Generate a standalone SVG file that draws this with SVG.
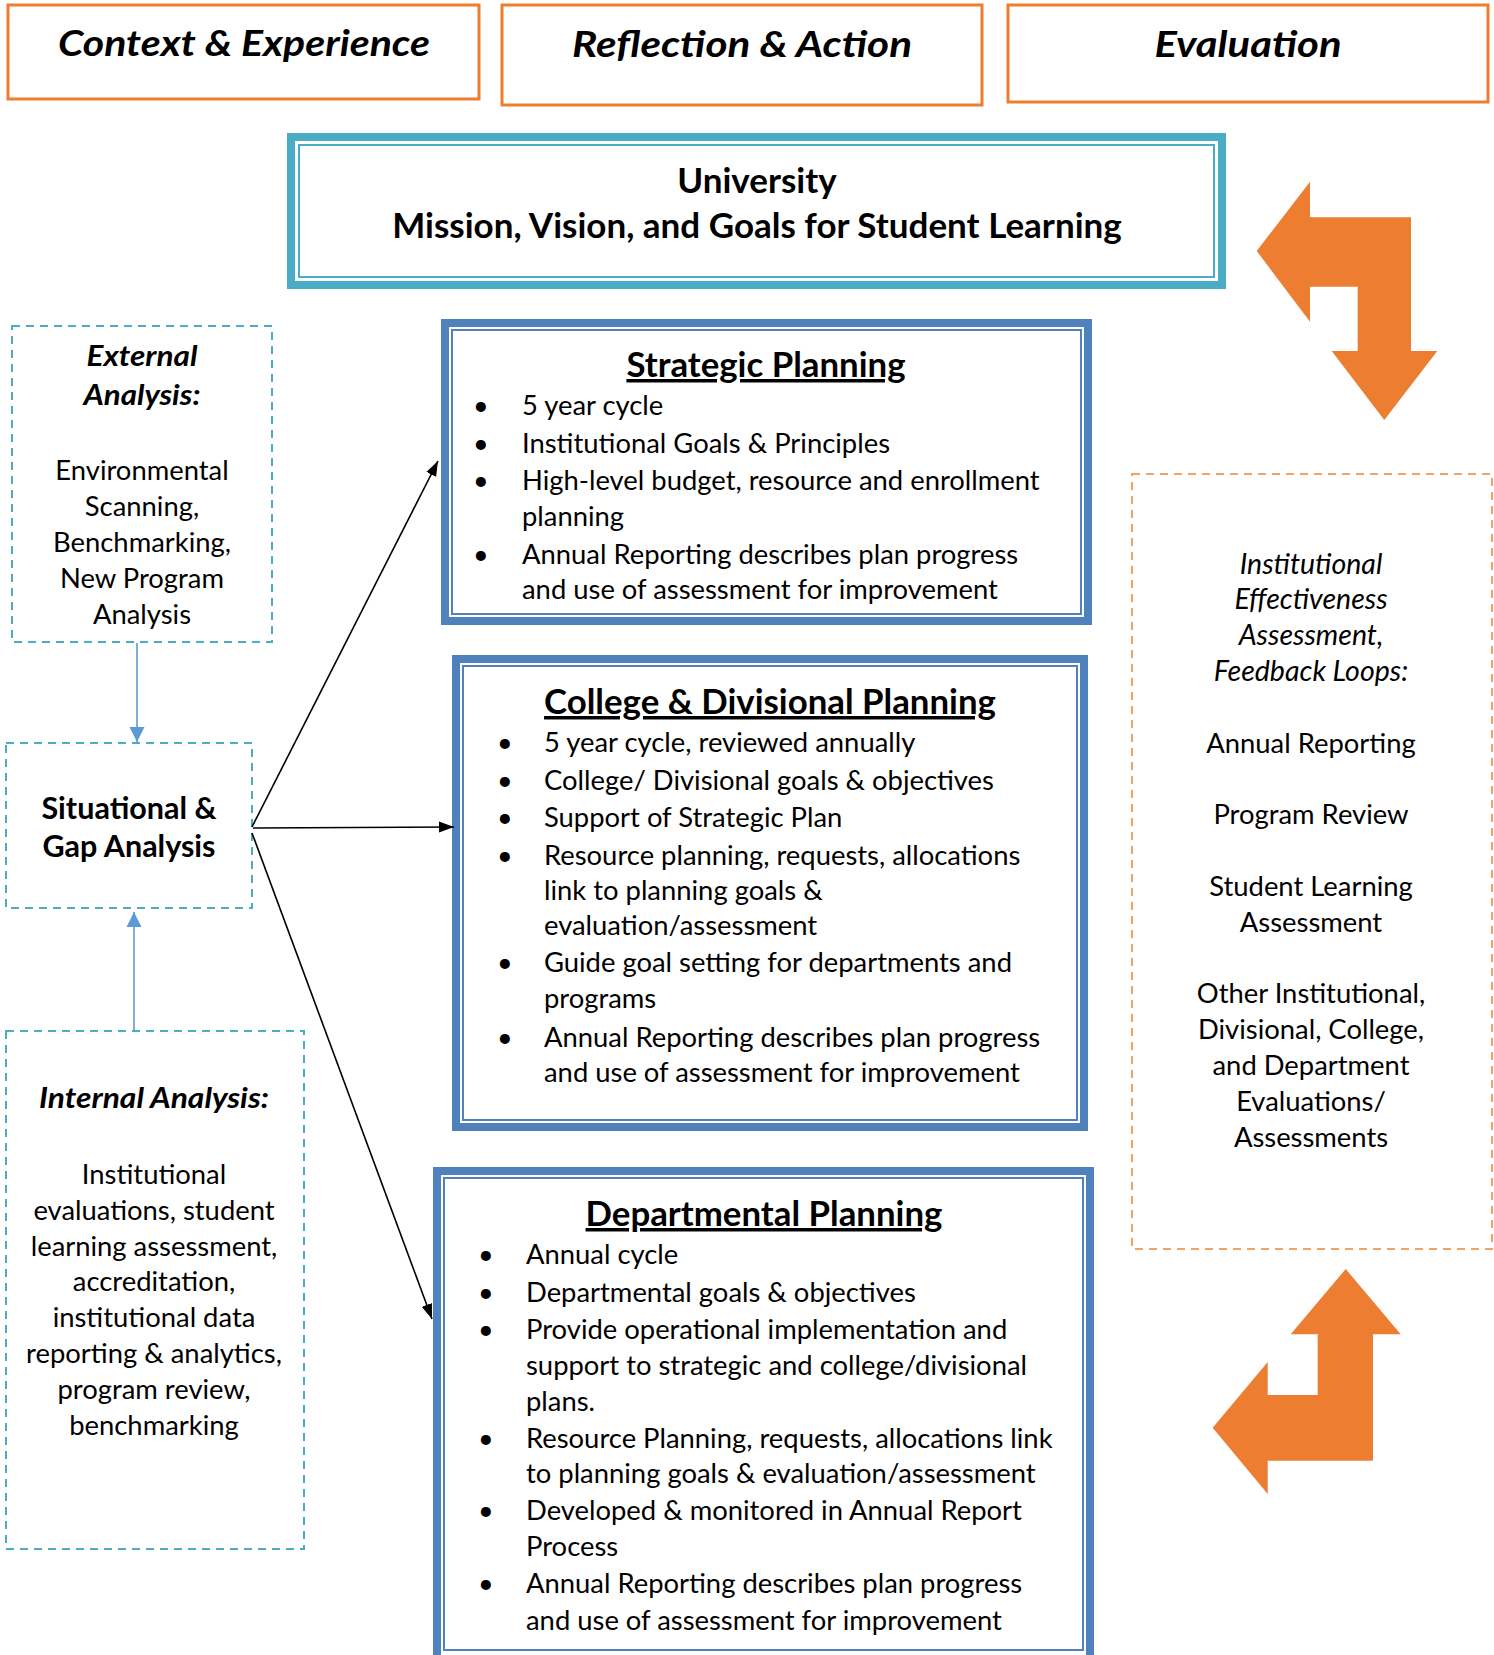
<svg xmlns="http://www.w3.org/2000/svg" width="1494" height="1655" viewBox="0 0 1494 1655">
  <style>
    text { font-family: Lato, "Open Sans", "Liberation Sans", sans-serif; fill: #000; }
    .hdr { font-size: 37px; font-weight: 700; font-style: italic; text-anchor: middle; }
    .hbox { fill: #fff; stroke: #ED7D31; stroke-width: 3; }
    .uni { font-size: 35px; font-weight: 700; text-anchor: middle; }
    .band-teal { fill: none; stroke: #4BACC6; stroke-width: 8; }
    .thin-teal { fill: none; stroke: #4BACC6; stroke-width: 2; }
    .band-blue { fill: none; stroke: #4F81BD; stroke-width: 8; }
    .thin-blue { fill: none; stroke: #4F81BD; stroke-width: 2; }
    .title { font-size: 34.8px; font-weight: 700; text-anchor: middle; text-decoration: underline; }
    .body { font-size: 27.4px; }
    .bul { font-size: 27px; }
    .ctr { font-size: 27.4px; text-anchor: middle; }
    .ctr-bi { font-size: 29px; font-weight: 700; font-style: italic; text-anchor: middle; }
    .ctr-b { font-size: 30.5px; font-weight: 700; text-anchor: middle; }
    .ctr-i { font-size: 28.5px; font-style: italic; text-anchor: middle; }
    .dash-teal { fill: #fff; stroke: #4BACC6; stroke-width: 2; stroke-dasharray: 8 6; }
    .dash-orange { fill: #fff; stroke: #F4A262; stroke-width: 2; stroke-dasharray: 8 6; }
    .conn { stroke: #000; stroke-width: 1.6; fill: none; }
    .conn-blue { stroke: #5B9BD5; stroke-width: 1.6; fill: none; }
    .big-arrow { fill: #ED7D31; }
  </style>
  <defs>
    <marker id="arrow-black" markerUnits="userSpaceOnUse" markerWidth="16" markerHeight="14" refX="15" refY="7" orient="auto">
      <path d="M0,1.5 L15,7 L0,12.5 Z" fill="#000"/>
    </marker>
    <marker id="arrow-blue" markerUnits="userSpaceOnUse" markerWidth="16" markerHeight="16" refX="15" refY="8" orient="auto">
      <path d="M0,0.5 L15,8 L0,15.5 Z" fill="#5B9BD5"/>
    </marker>
  </defs>

  <rect width="1494" height="1655" fill="#fff"/>

  <!-- column headers -->
  <g id="hdr-context">
    <rect class="hbox" x="8" y="5" width="471" height="94"/>
    <text class="hdr" x="244" y="56" textLength="372" lengthAdjust="spacingAndGlyphs">Context &amp; Experience</text>
  </g>
  <g id="hdr-reflection">
    <rect class="hbox" x="502" y="5" width="480" height="100"/>
    <text class="hdr" x="742" y="57" textLength="340" lengthAdjust="spacingAndGlyphs">Reflection &amp; Action</text>
  </g>
  <g id="hdr-evaluation">
    <rect class="hbox" x="1008" y="5" width="480" height="97"/>
    <text class="hdr" x="1248" y="57" textLength="187" lengthAdjust="spacingAndGlyphs">Evaluation</text>
  </g>

  <!-- university mission -->
  <g id="university">
    <rect x="287" y="133" width="939" height="156" fill="#fff"/>
    <rect class="band-teal" x="291" y="137" width="931" height="148"/>
    <rect class="thin-teal" x="299" y="145" width="915" height="132"/>
    <text class="uni" x="757" y="193">University</text>
    <text class="uni" x="757" y="238">Mission, Vision, and Goals for Student Learning</text>
  </g>

  <!-- evaluation feedback arrows -->
  <g id="arrow-top">
    <polygon class="big-arrow" points="1256.7,251 1310,181.7 1310,217.3 1411,217.3 1411,351 1437.3,351 1384.3,420 1331.7,351 1357.7,351 1357.7,286.7 1310,286.7 1310,321.7"/>
  </g>
  <g id="arrow-bottom">
    <polygon class="big-arrow" points="1345.7,1269 1400.7,1334.3 1373,1334.3 1373,1460.7 1267.7,1460.7 1267.7,1494 1212.7,1427.7 1267.7,1362 1267.7,1395 1317.7,1395 1317.7,1334.3 1290.7,1334.3"/>
  </g>

  <!-- external analysis -->
  <g id="external">
    <rect class="dash-teal" x="12" y="326" width="260" height="316"/>
    <text class="ctr-bi" x="142" y="366" textLength="111" lengthAdjust="spacingAndGlyphs">External</text>
    <text class="ctr-bi" x="142" y="405" textLength="117" lengthAdjust="spacingAndGlyphs">Analysis:</text>
    <text class="ctr" x="142" y="480">Environmental</text>
    <text class="ctr" x="142" y="516">Scanning,</text>
    <text class="ctr" x="142" y="552">Benchmarking,</text>
    <text class="ctr" x="142" y="588">New Program</text>
    <text class="ctr" x="142" y="624">Analysis</text>
  </g>

  <!-- situational analysis -->
  <g id="situational">
    <rect class="dash-teal" x="6" y="743" width="246" height="165"/>
    <text class="ctr-b" x="129" y="819">Situational &amp;</text>
    <text class="ctr-b" x="129" y="857">Gap Analysis</text>
  </g>

  <!-- internal analysis -->
  <g id="internal">
    <rect class="dash-teal" x="6" y="1031" width="298" height="518"/>
    <text class="ctr-bi" x="154" y="1108" textLength="230" lengthAdjust="spacingAndGlyphs">Internal Analysis:</text>
    <text class="ctr" x="154" y="1184">Institutional</text>
    <text class="ctr" x="154" y="1220">evaluations, student</text>
    <text class="ctr" x="154" y="1256">learning assessment,</text>
    <text class="ctr" x="154" y="1291">accreditation,</text>
    <text class="ctr" x="154" y="1327">institutional data</text>
    <text class="ctr" x="154" y="1363">reporting &amp; analytics,</text>
    <text class="ctr" x="154" y="1399">program review,</text>
    <text class="ctr" x="154" y="1435">benchmarking</text>
  </g>

  <!-- strategic planning -->
  <g id="strategic">
    <rect x="441" y="319" width="651" height="306" fill="#fff"/>
    <rect class="band-blue" x="445" y="323" width="643" height="298"/>
    <rect class="thin-blue" x="452" y="330" width="629" height="284"/>
    <text class="title" x="766" y="377">Strategic Planning</text>
    <text class="bul" x="473" y="415">•</text>
    <text class="body" x="522" y="415">5 year cycle</text>
    <text class="bul" x="473" y="453">•</text>
    <text class="body" x="522" y="453">Institutional Goals &amp; Principles</text>
    <text class="bul" x="473" y="490">•</text>
    <text class="body" x="522" y="490">High-level budget, resource and enrollment</text>
    <text class="body" x="522" y="526">planning</text>
    <text class="bul" x="473" y="564">•</text>
    <text class="body" x="522" y="564">Annual Reporting describes plan progress</text>
    <text class="body" x="522" y="599">and use of assessment for improvement</text>
  </g>

  <!-- college and divisional planning -->
  <g id="college">
    <rect x="452" y="655" width="636" height="476" fill="#fff"/>
    <rect class="band-blue" x="456" y="659" width="628" height="468"/>
    <rect class="thin-blue" x="463" y="666" width="614" height="454"/>
    <text class="title" x="770" y="714">College &amp; Divisional Planning</text>
    <text class="bul" x="497" y="752">•</text>
    <text class="body" x="544" y="752">5 year cycle, reviewed annually</text>
    <text class="bul" x="497" y="790">•</text>
    <text class="body" x="544" y="790">College/ Divisional goals &amp; objectives</text>
    <text class="bul" x="497" y="827">•</text>
    <text class="body" x="544" y="827">Support of Strategic Plan</text>
    <text class="bul" x="497" y="865">•</text>
    <text class="body" x="544" y="865">Resource planning, requests, allocations</text>
    <text class="body" x="544" y="900">link to planning goals &amp;</text>
    <text class="body" x="544" y="935">evaluation/assessment</text>
    <text class="bul" x="497" y="972">•</text>
    <text class="body" x="544" y="972">Guide goal setting for departments and</text>
    <text class="body" x="544" y="1008">programs</text>
    <text class="bul" x="497" y="1047">•</text>
    <text class="body" x="544" y="1047">Annual Reporting describes plan progress</text>
    <text class="body" x="544" y="1082">and use of assessment for improvement</text>
  </g>

  <!-- departmental planning -->
  <g id="departmental">
    <rect x="433" y="1167" width="661" height="500" fill="#fff"/>
    <rect class="band-blue" x="437" y="1171" width="653" height="500"/>
    <rect class="thin-blue" x="444" y="1178" width="639" height="472"/>
    <text class="title" x="764" y="1226">Departmental Planning</text>
    <text class="bul" x="478" y="1264">•</text>
    <text class="body" x="526" y="1264">Annual cycle</text>
    <text class="bul" x="478" y="1302">•</text>
    <text class="body" x="526" y="1302">Departmental goals &amp; objectives</text>
    <text class="bul" x="478" y="1339">•</text>
    <text class="body" x="526" y="1339">Provide operational implementation and</text>
    <text class="body" x="526" y="1375">support to strategic and college/divisional</text>
    <text class="body" x="526" y="1411">plans.</text>
    <text class="bul" x="478" y="1448">•</text>
    <text class="body" x="526" y="1448">Resource Planning, requests, allocations link</text>
    <text class="body" x="526" y="1483">to planning goals &amp; evaluation/assessment</text>
    <text class="bul" x="478" y="1520">•</text>
    <text class="body" x="526" y="1520">Developed &amp; monitored in Annual Report</text>
    <text class="body" x="526" y="1556">Process</text>
    <text class="bul" x="478" y="1593">•</text>
    <text class="body" x="526" y="1593">Annual Reporting describes plan progress</text>
    <text class="body" x="526" y="1630">and use of assessment for improvement</text>
  </g>

  <!-- institutional effectiveness -->
  <g id="effectiveness">
    <rect class="dash-orange" x="1132" y="474" width="360" height="775"/>
    <text class="ctr-i" x="1311" y="574">Institutional</text>
    <text class="ctr-i" x="1311" y="609">Effectiveness</text>
    <text class="ctr-i" x="1311" y="645">Assessment,</text>
    <text class="ctr-i" x="1311" y="681">Feedback Loops:</text>
    <text class="ctr" x="1311" y="753">Annual Reporting</text>
    <text class="ctr" x="1311" y="824">Program Review</text>
    <text class="ctr" x="1311" y="896">Student Learning</text>
    <text class="ctr" x="1311" y="932">Assessment</text>
    <text class="ctr" x="1311" y="1003">Other Institutional,</text>
    <text class="ctr" x="1311" y="1039">Divisional, College,</text>
    <text class="ctr" x="1311" y="1075">and Department</text>
    <text class="ctr" x="1311" y="1111">Evaluations/</text>
    <text class="ctr" x="1311" y="1147">Assessments</text>
  </g>

  <!-- connectors -->
  <g id="connectors">
    <line class="conn-blue" x1="137" y1="643" x2="137" y2="742" marker-end="url(#arrow-blue)"/>
    <line class="conn-blue" x1="134" y1="1030" x2="134" y2="912" marker-end="url(#arrow-blue)"/>
    <line class="conn" x1="252" y1="827" x2="438" y2="461" marker-end="url(#arrow-black)"/>
    <line class="conn" x1="253" y1="828" x2="454" y2="827" marker-end="url(#arrow-black)"/>
    <line class="conn" x1="252" y1="833" x2="432" y2="1319" marker-end="url(#arrow-black)"/>
  </g>
</svg>
